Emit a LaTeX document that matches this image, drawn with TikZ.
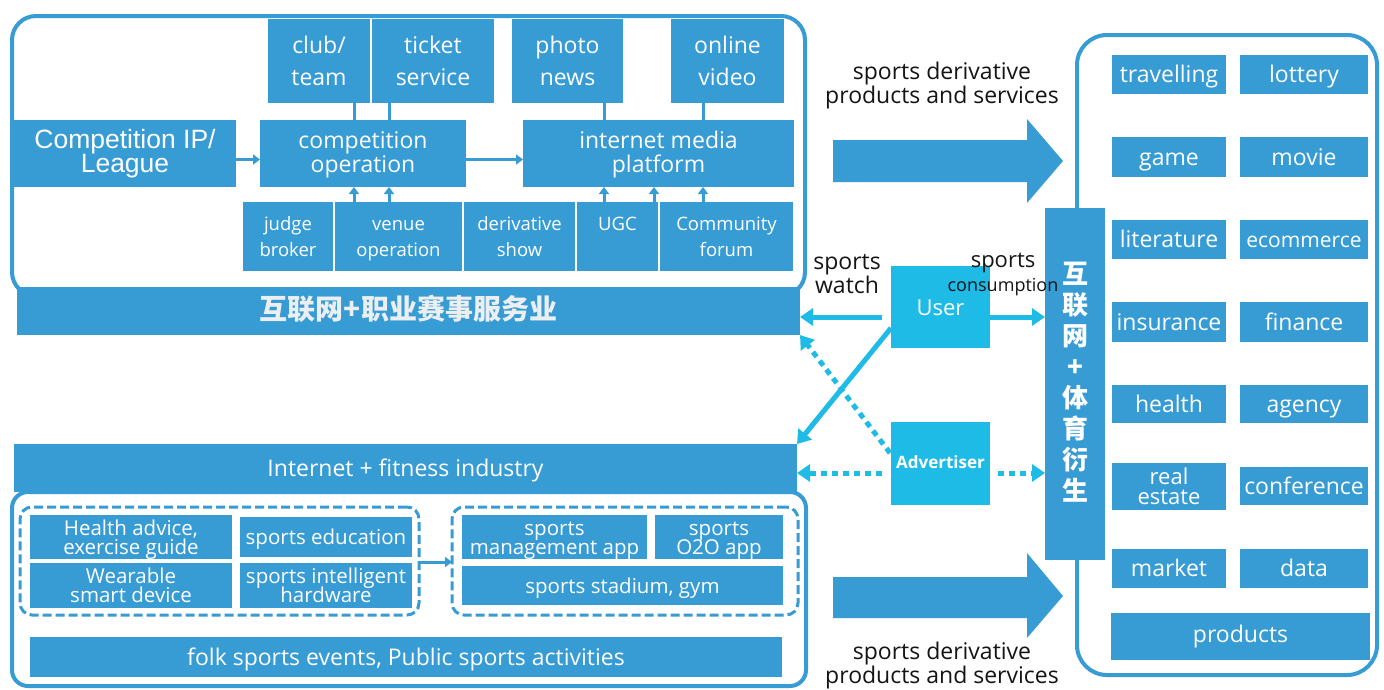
\documentclass[tikz,border=0pt]{standalone}
\usepackage{fontspec}
\setmainfont{Open Sans}
\newfontfamily\arialf{Liberation Sans}
\newfontfamily\cjk{Noto Sans CJK SC}
\usetikzlibrary{arrows.meta,calc}
\definecolor{myblue}{RGB}{55,155,212}
\definecolor{mycyan}{RGB}{30,187,230}
\definecolor{bandtxt}{RGB}{236,239,242}
\newdimen\txtup
\newcommand\fs[2]{\fontsize{#1}{#2}\selectfont\lineskiplimit=-100pt\relax}
\newcommand\bx[7][]{\node[box,minimum width={(#5-#3)*1pt},minimum height={(#6-#4)*1pt},#1] (#2) at ({(#3+#5)/2},{(#4+#6)/2}) {\rule{0pt}{\dimexpr\fontcharht\font`A+\txtup\relax}\vphantom{Ag}#7\vphantom{Ag}};}
\begin{document}
\begin{tikzpicture}[x=1pt,y=-1pt,
 box/.style={fill=myblue,text=white,inner sep=0pt,outer sep=0pt,align=center,font=\fs{23}{24},execute at begin node={\txtup=6pt}},
 frame/.style={draw=myblue,line width=4pt},
 dgroup/.style={draw=myblue,line width=3pt,dash pattern=on 9pt off 4pt,rounded corners=12pt,fill=none},
 topbox/.style={font=\fs{23}{32}},
 lowbox/.style={font=\fs{18.5}{26}},
 rbox/.style={font=\fs{23}{24}},
 gbox/.style={font=\fs{20.5}{19}},
 darr/.style={draw=myblue,line width=3pt,-{Triangle[length=7pt,width=10pt]}},
 dline/.style={draw=myblue,line width=3pt},
 carrow/.style={draw=mycyan,line width=5pt,-{Triangle[length=13pt,width=17pt]}},
 dotarrow/.style={carrow,dash pattern=on 6pt off 5pt},
 lbl/.style={text=black!92,align=center,inner sep=0pt}
]
\fill[white] (0,0) rectangle (1384,689);
\useasboundingbox (0,0) rectangle (1384,689);

% frames
\draw[frame,rounded corners=24pt] (12,16) rectangle (805,296);
\draw[frame,rounded corners=16pt] (12,492) rectangle (806,686);
\draw[frame,rounded corners=30pt] (1077,35) rectangle (1377,675);

% top section
\bx[execute at begin node={\txtup=2pt}]{topband}{17}{287}{800}{335}{\cjk\bfseries\color{bandtxt}\fs{28}{28}互联网+职业赛事服务业}
\bx[topbox]{club}{268}{19}{370}{103}{club/\\team}
\bx[topbox]{ticket}{372}{19}{494}{103}{ticket\\service}
\bx[topbox]{photo}{512}{19}{623}{103}{photo\\news}
\bx[topbox]{online}{671}{19}{784}{103}{online\\video}
\bx[font=\arialf\fs{26.5}{24},execute at begin node={\txtup=1pt}]{ipl}{14}{120}{236}{187}{Competition IP/\\League}
\bx[execute at begin node={\txtup=3pt}]{compop}{260}{120}{466}{187}{competition\\operation}
\bx[execute at begin node={\txtup=3pt}]{imp}{523}{120}{794}{187}{internet media\\platform}
\bx[lowbox]{judge}{243}{202}{333}{271}{judge\\broker}
\bx[lowbox]{venue}{335}{202}{462}{271}{venue\\operation}
\bx[lowbox]{deriv}{464}{202}{575}{271}{derivative\\show}
\bx[lowbox]{ugc}{577}{202}{658}{271}{\raisebox{13pt}[0pt][0pt]{UGC}}
\bx[lowbox]{comm}{660}{202}{793}{271}{Community\\forum}

\coordinate (xa) at (354,0);
\coordinate (xb) at (389,0);
\coordinate (xc) at (604,0);
\coordinate (xd) at (654,0);
\coordinate (xe) at (703,0);
\draw[darr] ($(ipl.east)+(0,6)$) -- ($(compop.west)+(0,6)$);
\draw[darr] ($(compop.east)+(0,6)$) -- ($(imp.west)+(0,6)$);
\draw[dline] (club.south -| xa) -- (compop.north -| xa);
\draw[dline] (ticket.south -| xb) -- (compop.north -| xb);
\draw[dline] (photo.south -| xc) -- (imp.north -| xc);
\draw[dline] (online.south -| xe) -- (imp.north -| xe);
\draw[darr] (judge.north -| xa) -- (compop.south -| xa);
\draw[darr] (venue.north -| xb) -- (compop.south -| xb);
\draw[darr] (deriv.north -| xc) -- (imp.south -| xc);
\draw[darr] (ugc.north -| xd) -- (imp.south -| xd);
\draw[darr] (comm.north -| xe) -- (imp.south -| xe);

% bottom-left section
\bx{botband}{14}{444}{797}{492}{Internet + fitness industry}
\bx[dgroup]{g1}{20}{507}{419}{615}{}
\bx[dgroup]{g2}{452}{507}{798}{615}{}
\bx[gbox]{health}{30}{517}{232}{557}{Health advice,\\exercise guide}
\bx[gbox]{sedu}{240}{517}{412}{557}{sports education}
\bx[gbox]{wear}{30}{566}{232}{605}{Wearable\\smart device}
\bx[gbox]{shw}{240}{566}{412}{605}{sports intelligent\\hardware}
\bx[gbox]{smapp}{462}{517}{647}{557}{sports\\management app}
\bx[gbox]{o2o}{655}{517}{783}{557}{sports\\O2O app}
\bx[gbox]{gym}{462}{566}{783}{605}{sports stadium, gym}
\bx{folk}{30}{637}{782}{677}{folk sports events, Public sports activities}
\coordinate (yc) at (0,562);
\draw[darr] (g1.east |- yc) -- (g2.west |- yc);

% right section
\bx[font=\cjk\bfseries\color{bandtxt}\fs{26}{31},execute at begin node={\txtup=0pt}]{col}{1045}{208}{1105}{560}{互\\联\\网\\+\\体\\育\\衍\\生}
\bx[rbox]{trav}{1112}{55}{1226}{94}{travelling}
\bx[rbox]{lott}{1240}{55}{1368}{94}{lottery}
\bx[rbox]{game}{1112}{137}{1226}{177}{game}
\bx[rbox]{movie}{1240}{137}{1368}{177}{movie}
\bx[rbox]{lit}{1112}{220}{1226}{259}{literature}
\bx[font=\fs{21}{24}]{ecom}{1240}{220}{1368}{259}{ecommerce}
\bx[rbox]{ins}{1112}{302}{1226}{342}{insurance}
\bx[rbox]{fin}{1240}{302}{1368}{342}{finance}
\bx[rbox]{hea}{1112}{385}{1226}{423}{health}
\bx[rbox]{agn}{1240}{385}{1368}{423}{agency}
\bx[font=\fs{22}{20}]{rest}{1112}{467}{1226}{505}{real\\estate}
\bx[rbox]{conf}{1240}{467}{1368}{505}{conference}
\bx[rbox]{mark}{1112}{549}{1226}{588}{market}
\bx[rbox]{data}{1240}{549}{1368}{588}{data}
\bx[rbox,execute at begin node={\txtup=0pt}]{prod}{1111}{613}{1370}{660}{products}

% big arrows
\fill[myblue] (833,140) -- (1027,140) -- (1027,119) -- (1063,161) -- (1027,203) -- (1027,182) -- (833,182) -- cycle;
\fill[myblue] (833,577) -- (1027,577) -- (1027,553) -- (1063,596) -- (1027,638) -- (1027,618) -- (833,618) -- cycle;
\node[lbl,font=\fs{23}{24}] (sdp1) at (942,86) {sports derivative\\products and services};
\node[lbl,font=\fs{23}{24}] (sdp2) at (942,666) {sports derivative\\products and services};

% user / advertiser
\bx[fill=mycyan,font=\fs{22}{24}]{user}{891}{266}{990}{348}{User}
\bx[fill=mycyan,font=\bfseries\fs{17}{20},execute at begin node={\txtup=2pt}]{adv}{891}{422}{990}{505}{Advertiser}
\node[lbl,font=\fs{23}{24}] (sw) at (847,274) {sports\\watch};
\node[lbl,font=\fs{22}{24}] (sc1) at (1003,263) {sports};
\node[lbl,font=\fs{18}{20}] (sc2) at (1003,287) {consumption};

\coordinate (ya) at (0,317);
\coordinate (yb) at (0,473);
\draw[carrow] ($(user.west)+(-9,10)$) -- (topband.east |- ya);
\draw[carrow] ($(user.east)+(0,10)$) -- (col.west |- ya);
\draw[carrow] ($(user.south west)+(0,-20)$) -- (botband.north east);
\draw[dotarrow] ($(adv.north west)+(-1,31)$) -- (topband.south east);
\draw[dotarrow] ($(adv.west |- yb)+(-9,0)$) -- (botband.east |- yb);
\draw[dotarrow] ($(adv.east |- yb)+(8,0)$) -- (col.west |- yb);
\end{tikzpicture}
\end{document}
